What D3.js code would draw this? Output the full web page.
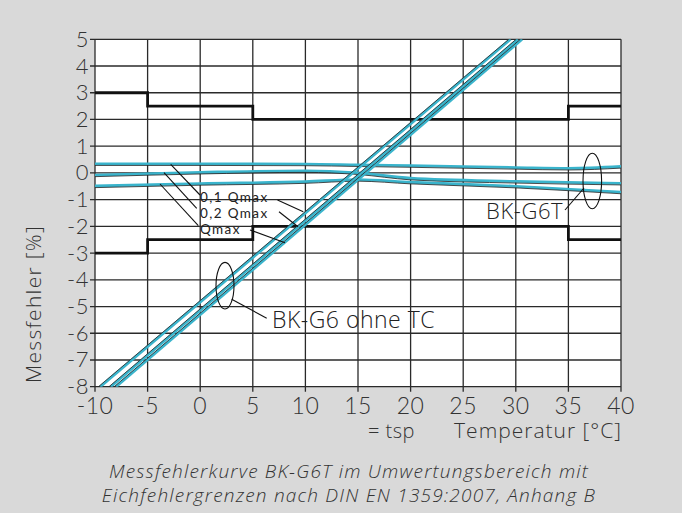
<!DOCTYPE html>
<html>
<head>
<meta charset="utf-8">
<script src="https://cdn.jsdelivr.net/npm/d3@7"></script>
<style>
  body { margin: 0; background: #d9d9d9; }
  svg { display: block; font-family: "Open Sans", Lato, sans-serif; font-weight: 300; }
  .tick { font-family: Lato, "Open Sans", sans-serif; }
</style>
</head>
<body>
<div id="chart"></div>
<script>
// ---- data ----
const xTicks = [-10, -5, 0, 5, 10, 15, 20, 25, 30, 35, 40];
const yTicks = [5, 4, 3, 2, 1, 0, -1, -2, -3, -4, -5, -6, -7, -8];

// Eichfehlergrenzen (upper / lower)
const limitUpper = [[-10, 3], [-5, 3], [-5, 2.5], [5, 2.5], [5, 2], [35, 2], [35, 2.5], [40, 2.5]];
const limitLower = [[-10, -3], [-5, -3], [-5, -2.5], [5, -2.5], [5, -2], [35, -2], [35, -2.5], [40, -2.5]];

// BK-G6T (temperature compensated)
const g6t_01Qmax = [[-10, 0.34], [0, 0.34], [10, 0.33], [15, 0.3], [20, 0.27], [30, 0.2], [35, 0.17], [40, 0.24]];
const g6t_02Qmax = [[-10, -0.08], [0, 0.02], [10, 0.08], [15, 0.0], [20, -0.2], [30, -0.32], [40, -0.39]];
const g6t_Qmax   = [[-10, -0.49], [0, -0.4], [10, -0.33], [15, -0.25], [20, -0.35], [30, -0.5], [40, -0.72]];

// BK-G6 ohne TC
const g6_01Qmax = [[-9.5, -8], [29.5, 5]];
const g6_02Qmax = [[-8.5, -8], [30.2, 5]];
const g6_Qmax   = [[-8.0, -8], [30.6, 5]];

const W = 682, H = 513;
const m = {left: 95, right: 61, top: 39.3, bottom: 126.3};

const svg = d3.select('#chart').append('svg')
    .attr('width', W)
    .attr('height', H);

const x = d3.scaleLinear().domain([-10, 40]).range([m.left, W - m.right]);
const y = d3.scaleLinear().domain([-8, 5]).range([H - m.bottom, m.top]);

svg.append('defs').append('clipPath').attr('id', 'clip')
    .append('rect')
    .attr('x', x(-10)).attr('y', y(5))
    .attr('width', x(40) - x(-10)).attr('height', y(-8) - y(5));

// plot background
svg.append('rect')
    .attr('x', x(-10)).attr('y', y(5))
    .attr('width', x(40) - x(-10)).attr('height', y(-8) - y(5))
    .attr('fill', '#fff');

// grid
svg.append('g').selectAll('line').data(xTicks).enter().append('line')
    .attr('x1', d => x(d)).attr('x2', d => x(d))
    .attr('y1', y(5)).attr('y2', y(-8) + 5)
    .attr('stroke', '#2a2a2a').attr('stroke-width', 1.3);
svg.append('g').selectAll('line').data(yTicks).enter().append('line')
    .attr('x1', x(-10) - 5).attr('x2', x(40))
    .attr('y1', d => y(d)).attr('y2', d => y(d))
    .attr('stroke', '#2a2a2a').attr('stroke-width', 1.3);

// tick labels
svg.append('g').attr('class', 'tick').selectAll('text').data(yTicks).enter().append('text')
    .attr('x', x(-10) - 6).attr('y', d => y(d) + 7.5)
    .attr('text-anchor', 'end')
    .attr('font-size', 22).attr('letter-spacing', 0.5).attr('fill', '#333')
    .text(d => d);
svg.append('g').attr('class', 'tick').selectAll('text').data(xTicks).enter().append('text')
    .attr('x', d => x(d)).attr('y', y(-8) + 27)
    .attr('text-anchor', 'middle')
    .attr('font-size', 23).attr('letter-spacing', 0.5).attr('fill', '#333')
    .text(d => d);

const line = d3.line().x(d => x(d[0])).y(d => y(d[1]));
const smooth = d3.line().x(d => x(d[0])).y(d => y(d[1])).curve(d3.curveMonotoneX);

const plot = svg.append('g').attr('clip-path', 'url(#clip)');

// limit lines
[limitUpper, limitLower].forEach(s => {
    plot.append('path').attr('d', line(s))
        .attr('fill', 'none').attr('stroke', '#111').attr('stroke-width', 2.8);
});

// blue curves with thin dark companion line
const blue = '#3ab4cc';
[g6t_01Qmax, g6t_02Qmax, g6t_Qmax].forEach(s => {
    plot.append('path').attr('d', smooth(s))
        .attr('fill', 'none').attr('stroke', blue).attr('stroke-width', 2.8);
    plot.append('path').attr('d', smooth(s))
        .attr('transform', 'translate(0,1.6)')
        .attr('fill', 'none').attr('stroke', '#222').attr('stroke-width', 0.8);
});
[g6_01Qmax, g6_02Qmax, g6_Qmax].forEach(s => {
    plot.append('path').attr('d', line(s))
        .attr('fill', 'none').attr('stroke', blue).attr('stroke-width', 2.8);
    plot.append('path').attr('d', line(s))
        .attr('transform', 'translate(-1.8,0)')
        .attr('fill', 'none').attr('stroke', '#222').attr('stroke-width', 0.8);
});

// annotations
const ann = svg.append('g').attr('stroke', '#111').attr('stroke-width', 1.1).attr('fill', 'none');
const leaders = [
    [[170.7, 164.3], [200, 195]], [[164, 172.7], [196.7, 208.3]], [[160, 184], [198.3, 225.7]],
    [[277.5, 200], [303.3, 211.7]], [[279, 211.7], [298, 226.7]], [[250, 230], [285, 242.7]],
    [[565, 210], [584, 188]], [[266.7, 318.3], [231.7, 299.3]]
];
leaders.forEach(l => ann.append('line')
    .attr('x1', l[0][0]).attr('y1', l[0][1]).attr('x2', l[1][0]).attr('y2', l[1][1]));
ann.append('ellipse').attr('cx', 592.3).attr('cy', 181).attr('rx', 9.3).attr('ry', 27.7);
ann.append('ellipse').attr('cx', 225).attr('cy', 285.7).attr('rx', 9).attr('ry', 23.3);

const qLabels = [
    {t: '0,1 Qmax', y: 201.5},
    {t: '0,2 Qmax', y: 217.5},
    {t: 'Qmax', y: 233.5}
];
svg.append('g').attr('class', 'tick').selectAll('text').data(qLabels).enter().append('text')
    .attr('x', 200).attr('y', d => d.y)
    .attr('font-size', 13.5).attr('font-weight', 400).attr('letter-spacing', 1.4).attr('fill', '#222')
    .text(d => d.t);

const labels = [
    {t: 'BK-G6T', x: 486, y: 219, s: 22, ls: 0.6},
    {t: 'BK-G6 ohne TC', x: 272, y: 327.5, s: 23, ls: 0.5}
];
svg.append('g').selectAll('text').data(labels).enter().append('text')
    .attr('x', d => d.x).attr('y', d => d.y)
    .attr('font-size', d => d.s).attr('letter-spacing', d => d.ls).attr('fill', '#222')
    .text(d => d.t);

// axis titles
svg.append('text')
    .attr('transform', 'translate(41,304) rotate(-90)')
    .attr('text-anchor', 'middle')
    .attr('font-size', 21).attr('letter-spacing', 1.3).attr('fill', '#333')
    .text('Messfehler [%]');
svg.append('text').attr('x', 368).attr('y', 438)
    .attr('font-size', 20).attr('letter-spacing', 0.5).attr('fill', '#333').text('= tsp');
svg.append('text').attr('x', 622).attr('y', 438)
    .attr('text-anchor', 'end')
    .attr('font-size', 21).attr('letter-spacing', 1).attr('fill', '#333').text('Temperatur [°C]');

// caption
svg.append('g').selectAll('text')
    .data(['Messfehlerkurve BK-G6T im Umwertungsbereich mit', 'Eichfehlergrenzen nach DIN EN 1359:2007, Anhang B'])
    .enter().append('text')
    .attr('x', 349).attr('y', (d, i) => 478 + i * 24)
    .attr('text-anchor', 'middle')
    .attr('font-size', 19).attr('letter-spacing', 1.2).attr('font-style', 'italic').attr('fill', '#333')
    .text(d => d);
</script>
</body>
</html>
